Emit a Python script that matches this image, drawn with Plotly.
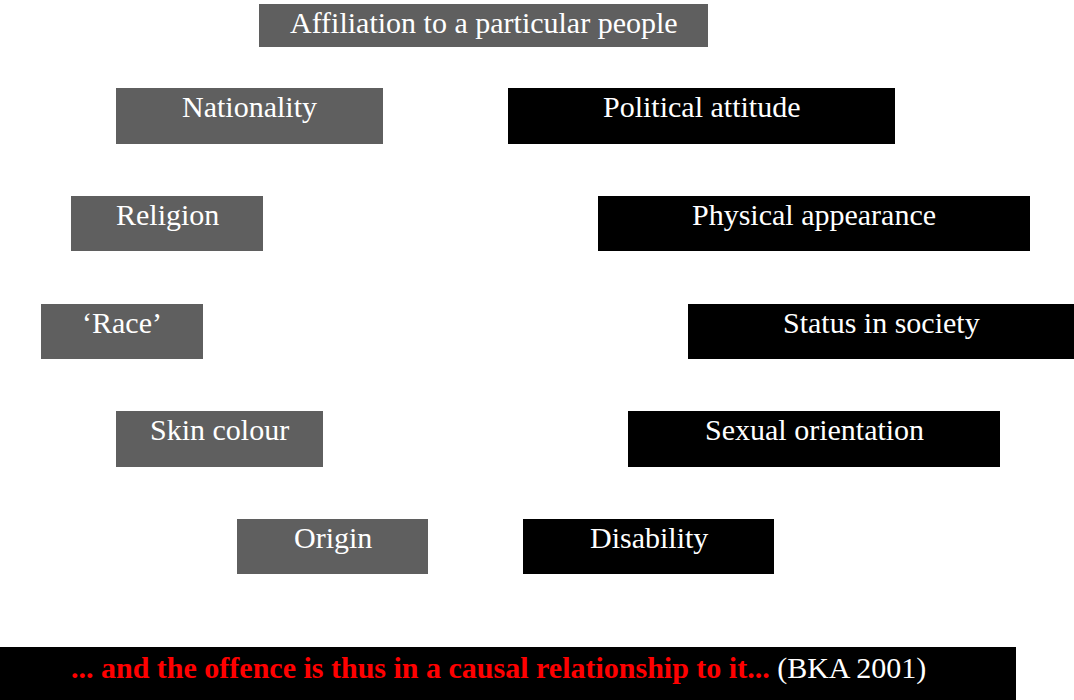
import plotly.graph_objects as go

labels = ["Affiliation to a particular people", "Nationality", "Political attitude",
          "Religion", "Physical appearance", "‘Race’", "Status in society",
          "Skin colour", "Sexual orientation", "Origin", "Disability"]
x0 = [259, 116, 508, 71, 598, 41, 688, 116, 628, 237, 523]
x1 = [708, 383, 895, 263, 1030, 203, 1074, 323, 1000, 428, 774]
y0 = [4, 88, 88, 196, 196, 304, 304, 411, 411, 519, 519]
y1 = [47, 144, 144, 251, 251, 359, 359, 467, 467, 574, 574]
fills = ["#5f5f5f", "#5f5f5f", "#000000", "#5f5f5f", "#000000", "#5f5f5f", "#000000",
         "#5f5f5f", "#000000", "#5f5f5f", "#000000"]

footer_main = "... and the offence is thus in a causal relationship to it..."
footer_src = "(BKA 2001)"
footer_box = [0, 1016, 647, 700]

FONT = "Liberation Serif, Times New Roman, serif"

fig = go.Figure()
shapes = []
annotations = []
for lab, a, b, c, d, f in zip(labels, x0, x1, y0, y1, fills):
    shapes.append(dict(type="rect", xref="x", yref="y", x0=a, x1=b, y0=c, y1=d,
                       fillcolor=f, line=dict(width=0), layer="below"))
    annotations.append(dict(x=(a + b) / 2, y=c + 18, xref="x", yref="y", text=lab,
                            showarrow=False, xanchor="center", yanchor="middle",
                            font=dict(family=FONT, size=30, color="white")))

shapes.append(dict(type="rect", xref="x", yref="y", x0=footer_box[0], x1=footer_box[1],
                   y0=footer_box[2], y1=footer_box[3], fillcolor="#000000",
                   line=dict(width=0), layer="below"))
annotations.append(dict(x=498, y=footer_box[2] + 21, xref="x", yref="y",
                        text=f"<b>{footer_main}</b> <span style='color:white'>{footer_src}</span>",
                        showarrow=False, xanchor="center", yanchor="middle",
                        font=dict(family=FONT, size=30, color="#ff0000")))

fig.add_trace(go.Scatter(x=[0, 1074], y=[0, 700], mode="markers",
                         marker=dict(opacity=0), hoverinfo="skip", showlegend=False))

fig.update_layout(width=1074, height=700, margin=dict(l=0, r=0, t=0, b=0),
                  paper_bgcolor="white", plot_bgcolor="white",
                  shapes=shapes, annotations=annotations, hovermode=False,
                  xaxis=dict(range=[0, 1074], visible=False, fixedrange=True),
                  yaxis=dict(range=[700, 0], visible=False, fixedrange=True))

fig.write_html("out.html", config={"displayModeBar": False},
               post_script="document.body.style.margin='0px';document.body.style.overflow='hidden';")
